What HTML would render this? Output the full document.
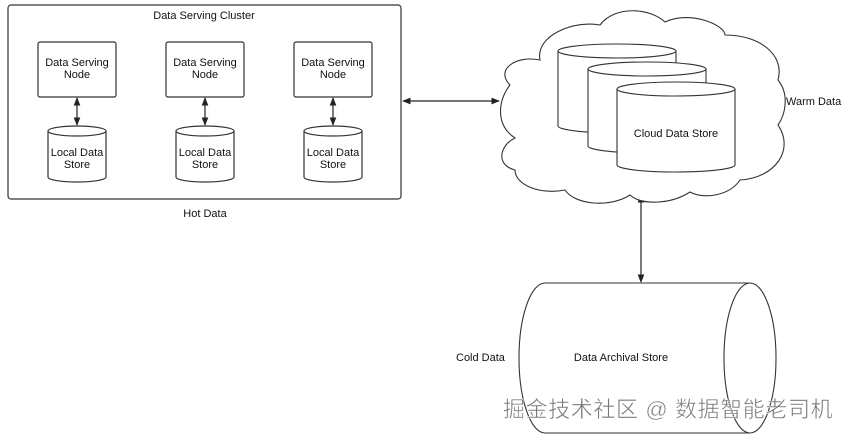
<!DOCTYPE html>
<html><head><meta charset="utf-8"><style>
html,body{margin:0;padding:0;background:#fff;}
svg{display:block;font-family:"Liberation Sans",Arial,sans-serif;}
</style></head><body>
<svg width="849" height="437" viewBox="0 0 849 437" xmlns="http://www.w3.org/2000/svg">
<defs>
<marker id="a" viewBox="0 0 10 10" refX="9" refY="5" markerWidth="7" markerHeight="7" orient="auto-start-reverse"><path d="M0,1 L10,5 L0,9 z" fill="#222"/></marker>
</defs>
<g stroke="#333" stroke-width="1.2" fill="#fff">
<rect x="8" y="5" width="393" height="194" rx="3"/>
<rect x="38" y="42" width="78" height="55" rx="2"/>
<rect x="166" y="42" width="78" height="55" rx="2"/>
<rect x="294" y="42" width="78" height="55" rx="2"/>
</g>
<g font-size="11" fill="#111" text-anchor="middle">
<text x="204" y="19">Data Serving Cluster</text>
<text x="77" y="66">Data Serving</text><text x="77" y="78">Node</text>
<text x="205" y="66">Data Serving</text><text x="205" y="78">Node</text>
<text x="333" y="66">Data Serving</text><text x="333" y="78">Node</text>
<text x="205" y="217">Hot Data</text>
</g>
<g stroke="#333" stroke-width="1.2" fill="#fff">
<path d="M48,131 V177 A29,5 0 0 0 106,177 V131"/><ellipse cx="77" cy="131" rx="29" ry="5"/>
<path d="M176,131 V177 A29,5 0 0 0 234,177 V131"/><ellipse cx="205" cy="131" rx="29" ry="5"/>
<path d="M304,131 V177 A29,5 0 0 0 362,177 V131"/><ellipse cx="333" cy="131" rx="29" ry="5"/>
</g>
<g font-size="11" fill="#111" text-anchor="middle">
<text x="77" y="156">Local Data</text><text x="77" y="168">Store</text>
<text x="205" y="156">Local Data</text><text x="205" y="168">Store</text>
<text x="333" y="156">Local Data</text><text x="333" y="168">Store</text>
</g>
<g stroke="#222" stroke-width="1.2" marker-start="url(#a)" marker-end="url(#a)">
<line x1="77" y1="98" x2="77" y2="125"/>
<line x1="205" y1="98" x2="205" y2="125"/>
<line x1="333" y1="98" x2="333" y2="125"/>
<line x1="403" y1="101" x2="499" y2="101"/>
<line x1="641" y1="195" x2="641" y2="282"/>
</g>
<path d="M510,85 C495,70 515,55 540,60 C535,35 575,20 600,25 C615,5 650,8 665,22 C690,10 725,25 725,35 C760,35 785,55 778,80 C790,95 785,115 778,125 C795,150 775,178 740,180 C730,195 705,200 690,192 C670,205 640,205 630,195 C610,208 575,205 565,190 C540,195 515,185 515,170 C495,165 500,145 515,138 C495,125 498,100 510,85 Z" fill="#fff" stroke="#333" stroke-width="1.1"/>
<g stroke="#333" stroke-width="1.1" fill="#fff">
<path d="M558,51 V126 A59,7 0 0 0 676,126 V51"/><ellipse cx="617" cy="51" rx="59" ry="7"/>
<path d="M588,69 V146 A59,7 0 0 0 706,146 V69"/><ellipse cx="647" cy="69" rx="59" ry="7"/>
<path d="M617,89 V165 A59,7 0 0 0 735,165 V89"/><ellipse cx="676" cy="89" rx="59" ry="7"/>
</g>
<g font-size="11" fill="#111">
<text x="676" y="137" text-anchor="middle">Cloud Data Store</text>
<text x="786" y="105">Warm Data</text>
<text x="456" y="361">Cold Data</text>
<text x="621" y="361" text-anchor="middle">Data Archival Store</text>
</g>
<g stroke="#333" stroke-width="1.1" fill="none">
<path d="M545,283 H750 M545,433 H750 M545,283 A26,75 0 0 0 545,433"/>
<ellipse cx="750" cy="358" rx="26" ry="75"/>
</g>
<text x="503" y="417" font-size="22" letter-spacing="0.6" fill="#777" stroke="#fff" stroke-width="0.5" font-family="'Liberation Sans','Noto Sans CJK SC',sans-serif">掘金技术社区 @ 数据智能老司机</text>
</svg>
</body></html>
